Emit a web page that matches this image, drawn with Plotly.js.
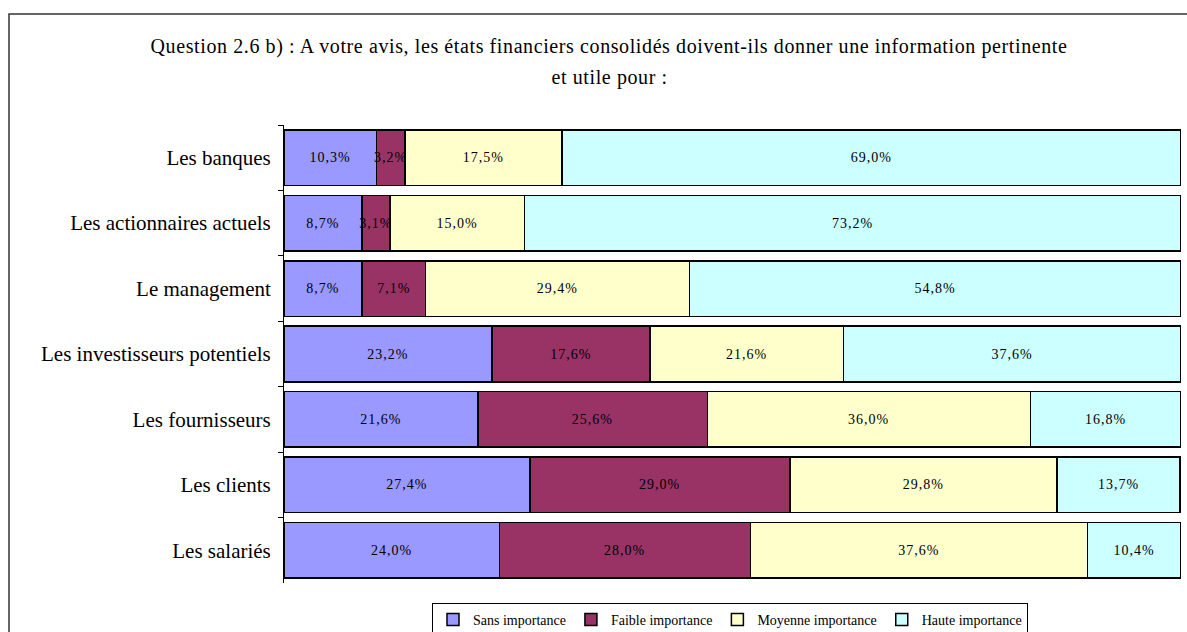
<!DOCTYPE html>
<html>
<head>
<meta charset="utf-8">
<script src="https://cdn.plot.ly/plotly-3.0.1.min.js"></script>
<style>
html,body{margin:0;padding:0;background:#fff;}
#chart{width:1187px;height:632px;}
#chart .gtitle, #chart .annotation-text{letter-spacing:0.6px;}
#chart .bartext{letter-spacing:1px;}
</style>
</head>
<body>
<div id="chart"></div>
<script>
const categories = ["Les banques", "Les actionnaires actuels", "Le management", "Les investisseurs potentiels", "Les fournisseurs", "Les clients", "Les salariés"];
const seriesNames = ["Sans importance", "Faible importance", "Moyenne importance", "Haute importance"];
const sansImportance = [10.3, 8.7, 8.7, 23.2, 21.6, 27.4, 24.0];
const faibleImportance = [3.2, 3.1, 7.1, 17.6, 25.6, 29.0, 28.0];
const moyenneImportance = [17.5, 15.0, 29.4, 21.6, 36.0, 29.8, 37.6];
const hauteImportance = [69.0, 73.2, 54.8, 37.6, 16.8, 13.7, 10.4];
const colors = ["#9999FF", "#993366", "#FFFFCC", "#CCFFFF"];

const serif = "Liberation Serif, Times New Roman, serif";
const fmt = v => v.toFixed(1).replace('.', ',') + '%';

const allSeries = [sansImportance, faibleImportance, moyenneImportance, hauteImportance];
const traces = allSeries.map((vals, i) => ({
  type: 'bar',
  orientation: 'h',
  name: seriesNames[i],
  y: categories,
  x: vals,
  text: vals.map(fmt),
  textposition: 'inside',
  insidetextanchor: 'middle',
  textangle: 0,
  constraintext: 'none',
  textfont: {family: serif, size: 14, color: '#000'},
  marker: {color: colors[i], line: {color: '#000', width: 1.5}},
  hoverinfo: 'name+x'
}));

const L = 284, R = 1181, T = 125, B = 583;
const pw = R - L, ph = B - T;
const px = x => (x - L) / pw;
const py = y => (B - y) / ph;

const layout = {
  width: 1187, height: 632,
  margin: {l: L, r: 1187 - R, t: T, b: 632 - B, autoexpand: false},
  paper_bgcolor: '#fff', plot_bgcolor: '#fff',
  barmode: 'stack',
  bargap: 0.15,
  showlegend: true,
  title: {
    text: "Question 2.6 b) : A votre avis, les états financiers consolidés doivent-ils donner une information pertinente",
    font: {family: serif, size: 20, color: '#000'},
    xref: 'container', x: 609 / 1187, xanchor: 'center',
    yref: 'container', y: 1 - 46 / 632, yanchor: 'middle'
  },
  annotations: [{
    text: "et utile pour :",
    xref: 'paper', yref: 'paper',
    x: px(609), y: py(78), xanchor: 'center', yanchor: 'middle',
    showarrow: false,
    font: {family: serif, size: 20, color: '#000'}
  }],
  xaxis: {range: [0, 100], showticklabels: false, showgrid: false, zeroline: false, showline: false, ticks: '', fixedrange: true},
  yaxis: {
    type: 'category', autorange: 'reversed',
    showline: true, linecolor: '#000', linewidth: 1,
    ticks: 'outside', ticklen: 5, tickcolor: '#000', tickson: 'boundaries',
    tickfont: {family: serif, size: 21, color: '#000'},
    ticklabelstandoff: 8,
    showgrid: false, zeroline: false
  },
  legend: {
    orientation: 'h',
    xref: 'paper', yref: 'paper',
    x: px(730), xanchor: 'center',
    y: py(603), yanchor: 'top',
    bordercolor: '#000', borderwidth: 1,
    bgcolor: '#fff',
    font: {family: serif, size: 14, color: '#000'},
    traceorder: 'normal',
    itemwidth: 30
  },
  shapes: [{
    type: 'rect', xref: 'paper', yref: 'paper',
    x0: px(9), x1: px(1200), y0: py(14), y1: py(650),
    line: {color: '#333', width: 1.5}, fillcolor: 'rgba(0,0,0,0)', layer: 'below'
  }]
};

Plotly.newPlot('chart', traces, layout, {displayModeBar: false, staticPlot: true});
</script>
</body>
</html>
